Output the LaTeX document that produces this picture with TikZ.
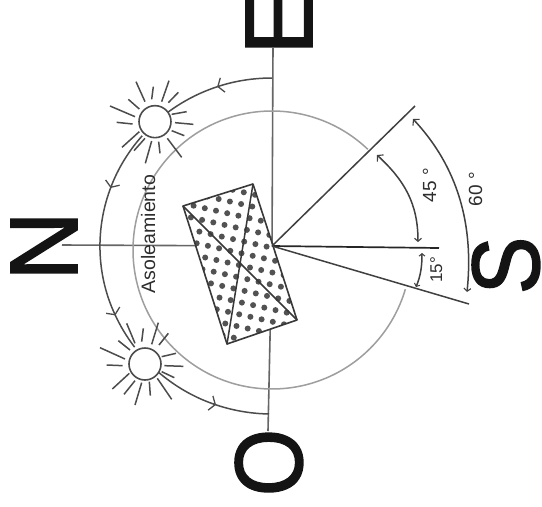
\documentclass[tikz,border=0pt]{standalone}
\usepackage{fontspec}
\setmainfont{Liberation Sans}
\newfontfamily\bigletter[FakeBold=1.6]{Liberation Sans}
\usetikzlibrary{arrows.meta}
\tikzset{
  x=1pt,y=1pt,
  axis/.style={draw=black!60,line width=1.6pt},
  ray/.style={draw=black!70,line width=1.5pt},
  ang/.style={draw=black!75,line width=1.5pt},
  orbit/.style={draw=black!70,line width=1.5pt},
  farrow/.style={-{Straight Barb[length=5pt,width=15pt,line width=1.3pt]}},
  dimarrow/.style={{Straight Barb[length=3pt,width=7pt,line width=1.1pt]}-{Straight Barb[length=4pt,width=9pt,line width=1.1pt]}},
  bigl/.style={rotate=90,anchor=base,inner sep=0pt,font=\fontsize{96}{96}\bigletter,text=black!92},
  small/.style={rotate=90,anchor=base,inner sep=0pt,text=black!82},
  sunc/.style={draw=black!70,line width=1.6pt,fill=white}
}
\begin{document}
\begin{tikzpicture}
\useasboundingbox (0,-507) rectangle (542,0);
\clip (0,-507) rectangle (542,0);
\fill[white] (0,-507) rectangle (542,0);
\coordinate (c) at (272,-246);
% letters
\node[bigl] (E) at (312,-22.6) {E};
\node[bigl] (N) at (77,-246) {N};
\node[bigl,xscale=0.9] (O) at (302,-462.5) {O};
\node[bigl,xscale=0.9] (S) at (539,-265.5) {S};
% axes
\coordinate (ntop) at (62,-245);
\coordinate (etop) at (273,-47);
\coordinate (obot) at (268,-431);
\draw[axis] (etop) -- (c) -- (obot);
\draw[axis] (ntop) -- (c);
% gray circle
\draw[draw=black!38,line width=1.5pt] (272,-250) ++(46.4:139) arc[start angle=46.4,end angle=343.6,radius=139];
% orbit
\draw[orbit,farrow] (272,-246) ++(90:172 and 168) arc[start angle=90,end angle=108.6,x radius=172,y radius=168];
\draw[orbit] (272,-246) ++(108:172 and 168) arc[start angle=108,end angle=127.6,x radius=172,y radius=168];
\draw[orbit,farrow] (272,-246) ++(139:172 and 168) arc[start angle=139,end angle=159.8,x radius=172,y radius=168];
\draw[orbit,farrow] (272,-246) ++(159:172 and 168) arc[start angle=159,end angle=204.4,x radius=172,y radius=168];
\draw[orbit] (272,-246) ++(204:172 and 168) arc[start angle=204,end angle=217,x radius=172,y radius=168];
\draw[orbit,farrow] (272,-246) ++(228:172 and 168) arc[start angle=228,end angle=251,x radius=172,y radius=168];
\draw[orbit] (272,-246) ++(250:172 and 168) arc[start angle=250,end angle=269,x radius=172,y radius=168];
% sun 1
\begin{scope}[shift={(80,-60)},x=0.33333pt,y=-0.33333pt]
\draw[sunc] (225,185) circle[radius=48];
\foreach \a/\b/\p/\q in {168/65/195/125,220/80/215/118,267/62/245/125,295/97/265/128,145/118/178/147,90/138/165/170,110/187/158/192,126/262/178/215,162/272/195/235,196/310/215/243,240/280/236/245,305/292/262/235,275/212/313/227,285/188/340/193,275/163/320/155}
  \draw[ray] (\a,\b) -- (\p,\q);
\end{scope}
% sun 2
\begin{scope}[shift={(80,-250)},x=0.33333pt,y=-0.33333pt]
\draw[sunc] (195,342) circle[radius=48];
\foreach \a/\b/\p/\q in {60/293/135/327,80/345/128/347,115/272/150/300,140/220/165/280,190/235/185/275,235/218/215/283,265/250/237/285,245/320/288/310,253/347/310/349,245/365/283/383,232/385/275/448,208/395/211/437,185/398/165/465,165/392/132/433,148/370/97/417}
  \draw[ray] (\a,\b) -- (\p,\q);
\end{scope}
% building
\coordinate (r1) at (183,-206);
\coordinate (r2) at (253,-184);
\coordinate (r3) at (297,-320);
\coordinate (r4) at (227,-344);
\fill[white] (r1) -- (r2) -- (r3) -- (r4) -- cycle;
\begin{scope}
\clip (r1) -- (r2) -- (r3) -- (r4) -- cycle;
\foreach \i in {-12,...,12}
  \foreach \j in {-12,...,12}
    \fill[black!68] ({216+11.2*\i-2.7*\j},{-(210.7+2.5*\i+11.7*\j)}) circle[radius=3];
\end{scope}
\draw[draw=black!78,line width=1.6pt,line join=round] (r1) -- (r2) -- (r3) -- (r4) -- cycle;
\draw[draw=black!78,line width=1.5pt] (r1) -- (r3);
\draw[draw=black!78,line width=1.5pt] (r2) -- (r4);
% direction lines
\coordinate (s0) at (439,-248);
\coordinate (s15) at (469,-304);
\coordinate (s45) at (415,-106);
\draw[draw=black!85,line width=1.7pt] (c) -- (s0);
\draw[ang] (c) -- (s15);
\draw[ang] (c) -- (s45);
% angle arcs
\draw[ang,dimarrow] (418,-242) .. controls (418,-203) and (404,-180) .. (377,-155);
\draw[ang,dimarrow] (467,-292) .. controls (474,-225) and (458,-167) .. (413,-119);
\draw[ang,{Straight Barb[length=2.5pt,width=6pt,line width=1pt]}-{Straight Barb[length=2.5pt,width=6pt,line width=1pt]}] (416,-287) .. controls (421,-275) and (422,-265) .. (422,-253);
% labels
\node[small,font=\fontsize{19.5}{19.5}\selectfont] (asol) at (155,-234) {Asoleamiento};
\node[small,font=\fontsize{19}{19}\selectfont] (a45) at (436,-185) {45 °};
\node[small,font=\fontsize{19}{19}\selectfont] (a60) at (482,-189) {60 °};
\node[small,font=\fontsize{17}{17}\selectfont] (a15) at (442,-270) {15°};
\end{tikzpicture}
\end{document}
